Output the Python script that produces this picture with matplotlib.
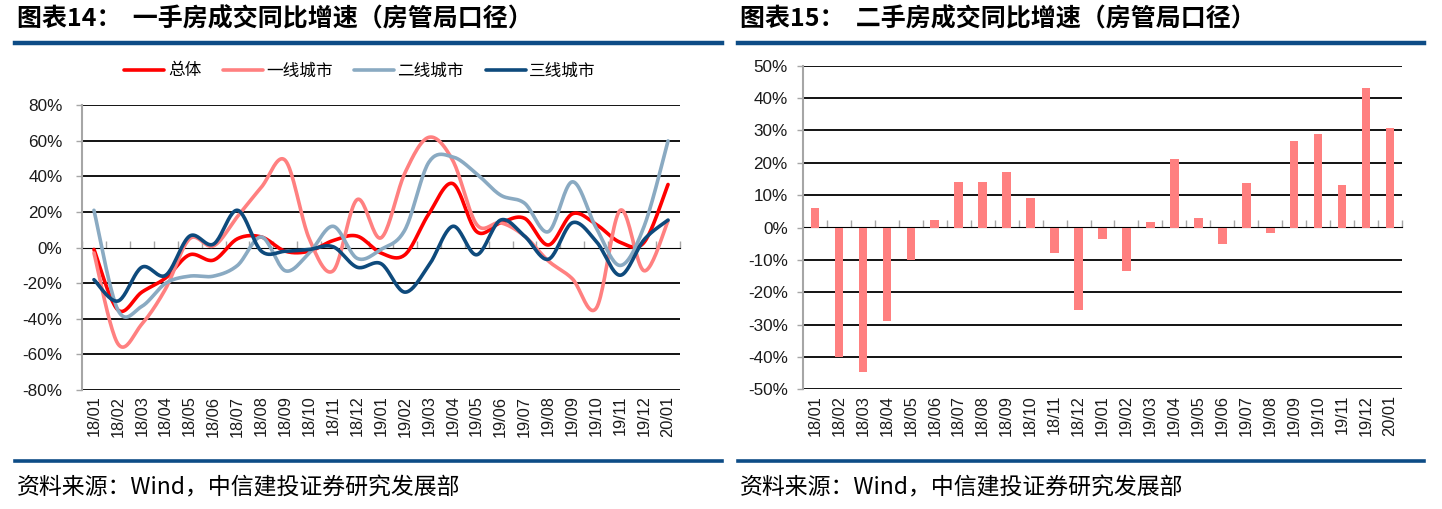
import numpy as np
import matplotlib
matplotlib.use("Agg")
import matplotlib.pyplot as plt
from matplotlib.lines import Line2D

plt.rcParams['font.family'] = ['Noto Sans CJK SC', 'DejaVu Sans']

# ---------------- data ----------------
months = ["18/01", "18/02", "18/03", "18/04", "18/05", "18/06", "18/07", "18/08",
          "18/09", "18/10", "18/11", "18/12", "19/01", "19/02", "19/03", "19/04",
          "19/05", "19/06", "19/07", "19/08", "19/09", "19/10", "19/11", "19/12", "20/01"]

total = [-1, -35, -25, -17, -4, -7, 5, 6, -2, -2, 4, 6.5, -3, -4, 19, 36,
         9, 14, 16.5, 1.5, 19, 13, 3, 3, 35.5]
tier1 = [-3, -54, -43, -23, 5, 1, 17.5, 34, 49, 5, -13, 27, 5.5, 42, 62, 49,
         13, 14, 6.5, -7.5, -17.5, -34, 21, -13, 15]
tier2 = [21, -35, -33, -20, -16, -16, -10, 6, -13, -3, 12, -6, -1, 10, 48, 51,
         41.5, 29.5, 25, 9, 37, 11, -10, 12, 60]
tier3 = [-18, -30, -11, -15.5, 6.5, 2, 21, -2, -2, -1, 0.5, -11, -9, -25, -10, 12,
         -4, 15.5, 6.5, -6.5, 14, 3.5, -15.5, 4.5, 15.5]

second_hand = [5.9, -40.1, -44.7, -29, -10.1, 2.3, 14.2, 14, 17.3, 9, -8, -25.5,
               -3.7, -13.5, 1.6, 21.3, 3, -5.2, 13.6, -1.6, 26.8, 29, 13, 43, 30.7]

series_names = ["总体", "一线城市", "二线城市", "三线城市"]
series_colors = ["#FF0000", "#FF8080", "#8AAAC2", "#0E4A7C"]

left_yticks = [-80, -60, -40, -20, 0, 20, 40, 60, 80]
right_yticks = [-50, -40, -30, -20, -10, 0, 10, 20, 30, 40, 50]

title_left = "图表14：  一手房成交同比增速（房管局口径）"
title_right = "图表15：  二手房成交同比增速（房管局口径）"
source_text = "资料来源：Wind，中信建投证券研究发展部"


def smooth(yvals, n=24):
    """Bezier smoothing (Catmull-Rom style, like Excel smoothed lines)."""
    y = np.asarray(yvals, dtype=float)
    x = np.arange(len(y), dtype=float)
    P = np.column_stack([x, y])
    Pp = np.vstack([P[0], P, P[-1]])
    t = np.linspace(0, 1, n)[:, None]
    out = []
    for i in range(len(y) - 1):
        p0, p1, p2, p3 = Pp[i], Pp[i + 1], Pp[i + 2], Pp[i + 3]
        c1 = p1 + (p2 - p0) / 6.0
        c2 = p2 - (p3 - p1) / 6.0
        seg = ((1 - t) ** 3) * p1 + 3 * ((1 - t) ** 2) * t * c1 + 3 * (1 - t) * t ** 2 * c2 + t ** 3 * p2
        out.append(seg if i == 0 else seg[1:])
    out = np.vstack(out)
    return out[:, 0], out[:, 1]


W, H = 1442, 509
fig = plt.figure(figsize=(W / 100, H / 100), dpi=100)

ytick_font = dict(family=['Liberation Sans', 'DejaVu Sans'], size=12.3)
xtick_font = dict(family=['Liberation Sans', 'DejaVu Sans'], size=11.8)
gray = "#A6A6A6"


def style_axes(ax, yticks, lo, hi, ypad):
    ax.set_xlim(-0.5, len(months) - 0.5)
    ax.set_ylim(lo, hi)
    for s in ["top", "right", "bottom"]:
        ax.spines[s].set_visible(False)
    ax.spines["left"].set_color(gray)
    ax.spines["left"].set_linewidth(1.5)
    ax.set_yticks(yticks)
    ax.set_yticklabels([f"{v}%" for v in yticks], **ytick_font)
    ax.tick_params(axis="y", direction="out", length=4, color=gray, width=1, pad=ypad,
                   labelcolor="#1a1a1a")
    ax.set_xticks(range(len(months)))
    ax.set_xticklabels(months, rotation=90, **xtick_font)
    ax.tick_params(axis="x", length=0, pad=4, labelcolor="#1a1a1a")
    for v in yticks:
        if v != 0:
            ax.axhline(v, color="black", lw=1.3, zorder=1)
    # zero axis with category tick marks
    frac = (0 - lo) / (hi - lo)
    sec = ax.secondary_xaxis(frac)
    sec.set_xticks(np.arange(-0.5, len(months), 1.0))
    sec.set_xticklabels([])
    sec.tick_params(axis="x", direction="out", length=5, color=gray, width=1)
    sec.spines["bottom"].set_color(gray)
    sec.spines["bottom"].set_linewidth(1.6)


# ---------------- left chart ----------------
axL = fig.add_axes([82 / W, 1 - 390 / H, 598 / W, 284.7 / H])
style_axes(axL, left_yticks, -80, 80, ypad=10)
handles = []
for vals, name, col in zip([total, tier1, tier2, tier3], series_names, series_colors):
    sx, sy = smooth(vals)
    axL.plot(sx, sy, color=col, lw=2.6, solid_capstyle="round", zorder=3)
    handles.append(Line2D([0], [0], color=col, lw=2.6, solid_capstyle="round"))

fig.legend(handles, series_names, loc="center", bbox_to_anchor=(360 / W, 1 - 71 / H),
           bbox_transform=fig.transFigure, ncol=4, frameon=False,
           prop=dict(family=['Noto Sans CJK SC'], size=12),
           handlelength=2.4, handletextpad=0.2, columnspacing=1.3)

# ---------------- right chart ----------------
axR = fig.add_axes([803 / W, 1 - 389.3 / H, 599 / W, 323.6 / H])
style_axes(axR, right_yticks, -50, 50, ypad=7)
axR.bar(range(len(months)), second_hand, width=0.36, color="#FF8080", zorder=3)

# ---------------- titles, rules, source ----------------
for x0, x1, title in [(15, 722, title_left), (738, 1424, title_right)]:
    tx = 17 / W if x0 == 15 else 740 / W
    fig.text(tx, 1 - 19 / H, title, fontsize=18,
             fontweight="bold", va="center", ha="left", color="black")
    fig.add_artist(Line2D([x0 / W, x1 / W], [1 - 43 / H, 1 - 43 / H],
                          color="#0D4C86", lw=3.2, transform=fig.transFigure))
    fig.add_artist(Line2D([x0 / W, x1 / W], [1 - 461 / H, 1 - 461 / H],
                          color="#0D4C86", lw=2.6, transform=fig.transFigure))
    fig.text(tx, 1 - 488 / H, source_text, fontsize=16.5,
             style="italic", va="center", ha="left", color="black")

fig.savefig("out.png", dpi=100)
